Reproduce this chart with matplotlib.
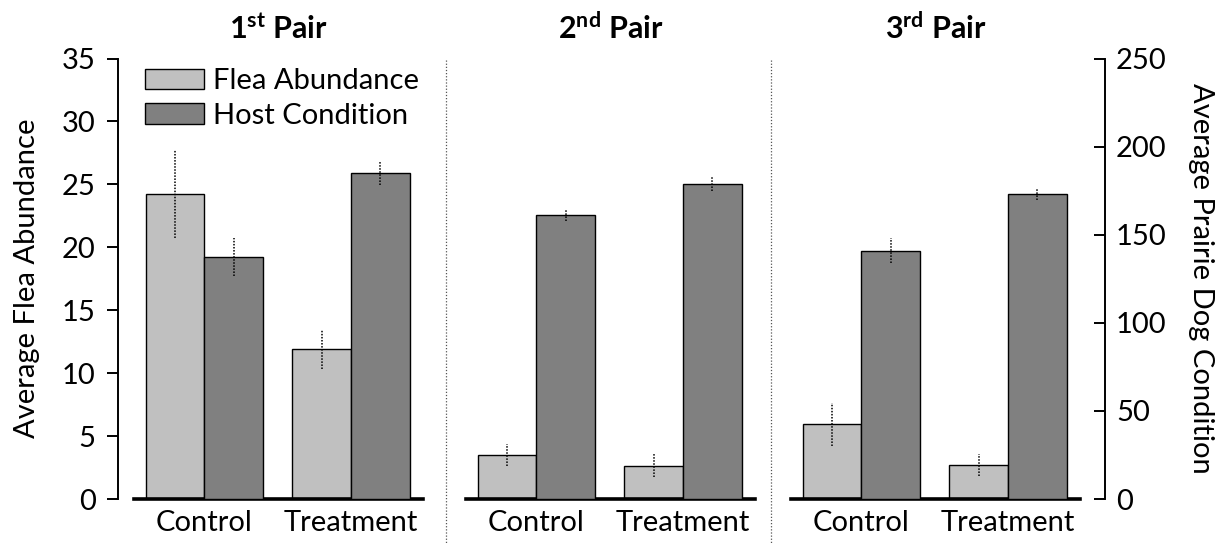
import matplotlib
matplotlib.use("Agg")
import matplotlib.pyplot as plt
from matplotlib.patches import Patch
from matplotlib.lines import Line2D

plt.rcParams['font.family'] = ['Lato', 'DejaVu Sans']
plt.rcParams['mathtext.fontset'] = 'custom'
plt.rcParams['mathtext.rm'] = 'Lato'
plt.rcParams['mathtext.bf'] = 'Lato:bold'
plt.rcParams['mathtext.it'] = 'Lato:italic'

# ---- data ----
pairs = [r"$\mathbf{1^{st}}$ Pair", r"$\mathbf{2^{nd}}$ Pair", r"$\mathbf{3^{rd}}$ Pair"]
groups = ["Control", "Treatment"]
flea_mean = [[24.2, 11.9], [3.5, 2.65], [5.95, 2.7]]
flea_err = [[3.5, 1.55], [0.85, 0.9], [1.7, 0.9]]
host_mean = [[137.5, 185.0], [161.2, 179.0], [141.0, 173.0]]
host_err = [[10.7, 7.0], [3.3, 4.0], [7.0, 3.5]]
flea_ticks = [0, 5, 10, 15, 20, 25, 30, 35]
host_ticks = [0, 50, 100, 150, 200, 250]

light = "#c0c0c0"
dark = "#808080"
FS = 21

W, H = 1228, 544
fig = plt.figure(figsize=(W / 100, H / 100), dpi=100)

def fx(px):
    return px / W

def fy(py):
    return 1 - py / H

y0, y1 = 499, 58.5
bottom = fy(y0)
height = (y0 - y1) / H
panel_x = [134, 466, 791]
panel_w = 289
bw = 0.40
xs = [0, 1]

def dotted_err(ax, x, y, e):
    c = ax.errorbar(x, y, yerr=e, fmt='none', ecolor='black', elinewidth=1.1, capsize=0, zorder=5)
    for lc in c.lines[2]:
        lc.set_linestyle((0, (1, 1)))

for i in range(3):
    ax = fig.add_axes([fx(panel_x[i]), bottom, fx(panel_w), height])
    ax2 = ax.twinx()
    ax.set_ylim(0, 35)
    ax2.set_ylim(0, 250)
    ax.set_xlim(-0.48, 1.49)
    fl = [x - bw / 2 for x in xs]
    ho = [x + bw / 2 for x in xs]
    ax.bar(fl, flea_mean[i], width=bw, color=light, edgecolor='black', linewidth=1.0, zorder=2)
    dotted_err(ax, fl, flea_mean[i], flea_err[i])
    ax2.bar(ho, host_mean[i], width=bw, color=dark, edgecolor='black', linewidth=1.0, zorder=2)
    dotted_err(ax2, ho, host_mean[i], host_err[i])
    for a in (ax, ax2):
        for s in ('left', 'right', 'top'):
            a.spines[s].set_visible(False)
        a.set_yticks([])
        a.patch.set_visible(False)
    ax2.spines['bottom'].set_visible(False)
    ax.spines['bottom'].set_linewidth(2.6)
    ax.spines['bottom'].set_zorder(10)
    ax.set_xticks(xs)
    ax.set_xticklabels(groups, fontsize=FS)
    ax.tick_params(axis='x', length=0, pad=8)
    ax2.tick_params(axis='x', length=0, labelbottom=False)
    ax.set_title(pairs[i], fontsize=22, fontweight='bold', pad=14)
    if i == 0:
        handles = [Patch(facecolor=light, edgecolor='black', linewidth=1.0),
                   Patch(facecolor=dark, edgecolor='black', linewidth=1.0)]
        ax2.legend(handles, ["Flea Abundance", "Host Condition"], loc='upper left',
                   bbox_to_anchor=((145 - 134) / panel_w, 0.978),
                   frameon=False, fontsize=FS, handlelength=2.03, handleheight=0.72,
                   handletextpad=0.3, labelspacing=0.3, borderaxespad=0, borderpad=0)

# left scale
axl = fig.add_axes([fx(118), bottom, 1e-5, height])
axl.set_ylim(0, 35)
axl.set_yticks(flea_ticks)
axl.set_xticks([])
for s in ('right', 'top', 'bottom'):
    axl.spines[s].set_visible(False)
axl.spines['left'].set_linewidth(1.4)
axl.tick_params(axis='y', direction='out', length=8, width=1.4, labelsize=FS, pad=8)
axl.set_ylabel("Average Flea Abundance", fontsize=FS, labelpad=16)
axl.patch.set_visible(False)

# right scale
axr = fig.add_axes([fx(1105), bottom, 1e-5, height])
axr.set_ylim(0, 250)
axr.yaxis.tick_right()
axr.yaxis.set_label_position('right')
axr.set_yticks(host_ticks)
axr.set_xticks([])
for s in ('left', 'top', 'bottom'):
    axr.spines[s].set_visible(False)
axr.spines['right'].set_linewidth(1.4)
axr.tick_params(axis='y', direction='in', length=8, width=1.4, labelsize=FS, pad=8)
axr.set_ylabel("Average Prairie Dog Condition", fontsize=FS, rotation=-90, labelpad=34)
axr.patch.set_visible(False)

# dotted dividers between the pairs
for xp in (446, 771):
    fig.add_artist(Line2D([fx(xp), fx(xp)], [fy(60), fy(544)], color='#555555',
                          linewidth=0.9, linestyle=(0, (1, 1.5))))

fig.savefig("out.png", dpi=100)
